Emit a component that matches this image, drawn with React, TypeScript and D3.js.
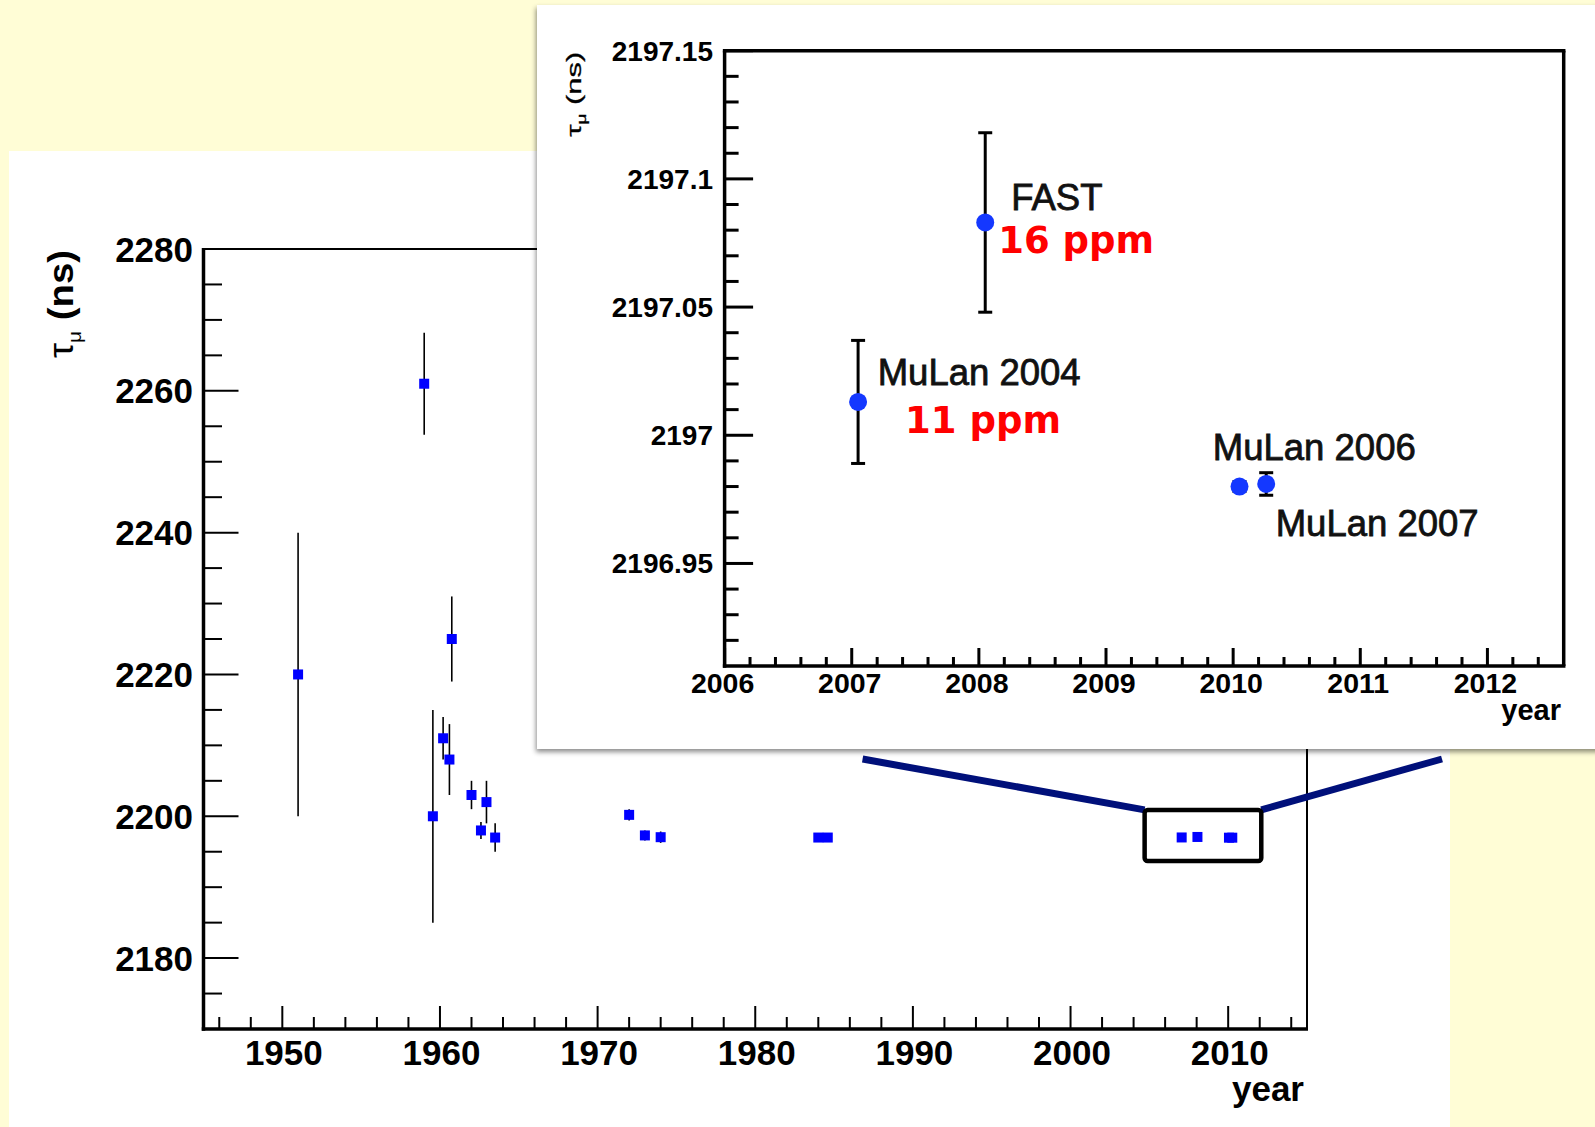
import React from "react";
import * as d3 from "d3";

// Muon lifetime measurements (year, tau in ns, 1-sigma error)
const earlyYears = [1951, 1959, 1959.55, 1960.2, 1960.6, 1960.75, 1962.0, 1962.6, 1962.95, 1963.5, 1972.0, 1973.0, 1974.0, 1984.0, 1984.6];
const earlyTau = [2220, 2261, 2200, 2211, 2208, 2225, 2203, 2198, 2202, 2197, 2200.2, 2197.3, 2197.05, 2197.0, 2197.0];
const earlyErr = [20, 7.2, 15, 3, 5, 6, 2, 1.2, 3, 2, 0.8, 0.7, 0.8, 0.1, 0.1];

// Recent precision experiments shown in the zoomed panel
const recentNames = ["MuLan 2004", "FAST", "MuLan 2006", "MuLan 2007"];
const recentYears = [2007.05, 2008.05, 2010.05, 2010.26];
const recentTau = [2197.013, 2197.083, 2196.98, 2196.981];
const recentErr = [0.024, 0.035, 0.0019, 0.0044];
const precisionLabels = ["11 ppm", "16 ppm", "", ""];

// Axis tick values
const mainYMajor = [2180, 2200, 2220, 2240, 2260, 2280];
const mainXMajor = [1950, 1960, 1970, 1980, 1990, 2000, 2010];
const insetYMajor = [2196.95, 2197.0, 2197.05, 2197.1, 2197.15];
const insetXMajor = [2006, 2007, 2008, 2009, 2010, 2011, 2012];

// Zoom window drawn on the overview plot (data units)
const zoomBoxYears = [2004.7, 2012.1];
const zoomBoxTau = [2193.7, 2200.9];

const FONT = "'Liberation Sans', Arial, Helvetica, sans-serif";
const VFONT = "'DejaVu Sans', Verdana, sans-serif";

export default function App() {
  const W = 1595;
  const H = 1127;

  const x = d3.scaleLinear().domain([1945, 2015]).range([203.5, 1307]);
  const y = d3.scaleLinear().domain([2170, 2280]).range([1029, 249]);
  const ix = d3.scaleLinear().domain([2006, 2012.6]).range([724.6, 1563.7]);
  const iy = d3.scaleLinear().domain([2196.91, 2197.15]).range([666, 50.7]);

  const allYears = earlyYears.concat(recentYears);
  const allTau = earlyTau.concat(recentTau);
  const allErr = earlyErr.concat(recentErr);

  const mainYMinor = d3.range(2170, 2281, 5).filter((v) => !mainYMajor.includes(v));
  const mainXMinor = d3.range(1946, 2015, 2).filter((v) => v % 10 !== 0);
  const insetYMinor = d3
    .range(1, 24)
    .filter((i) => (91 + i) % 5 !== 0)
    .map((i) => 2196.91 + i * 0.01);
  const insetXMinor = d3
    .range(1, 33)
    .filter((i) => i % 5 !== 0)
    .map((i) => 2006 + i * 0.2);

  const fmt = (v: number) => String(+v.toFixed(2));

  const [x0, y0] = [x.range()[0], y.range()[0]];
  const [x1, y1] = [x.range()[1], y.range()[1]];
  const [ix0, iy0] = [ix.range()[0], iy.range()[0]];
  const [ix1, iy1] = [ix.range()[1], iy.range()[1]];

  const bx0 = x(zoomBoxYears[0]);
  const bx1 = x(zoomBoxYears[1]);
  const by0 = y(zoomBoxTau[1]);
  const by1 = y(zoomBoxTau[0]);

  // label offsets (pixels) from each recent point
  const nameOffsets = [
    [19.6, -17],
    [26, -12],
    [-26.7, -26.7],
    [9.5, 51.7],
  ];
  const ppmOffsets = [
    [47, 31],
    [13, 30.5],
    [0, 0],
    [0, 0],
  ];

  return (
    <div style={{ position: "absolute", left: 0, top: 0 }}>
      <svg width={W} height={H} viewBox={`0 0 ${W} ${H}`} style={{ display: "block" }}>
        <defs>
          <filter id="panelShadow" x="-5%" y="-5%" width="115%" height="115%">
            <feDropShadow dx="-1" dy="3" stdDeviation="2.5" floodColor="#000" floodOpacity="0.45" />
          </filter>
        </defs>
        <rect x={0} y={0} width={W} height={H} fill="#fffdd6" />
        {/* overview panel */}
        <rect x={9} y={151} width={1441} height={H - 151} fill="#ffffff" />

        {/* frame */}
        <line x1={x0} y1={y1} x2={x1} y2={y1} stroke="#000" strokeWidth={2} />
        <line x1={x1} y1={y1} x2={x1} y2={y0} stroke="#000" strokeWidth={2} />
        <line x1={x0} y1={y1 - 1} x2={x0} y2={y0 + 1.75} stroke="#000" strokeWidth={3.5} />
        <line x1={x0 - 1.75} y1={y0} x2={x1 + 1} y2={y0} stroke="#000" strokeWidth={3.5} />

        {/* y ticks */}
        {mainYMajor.map((v) => (
          <g key={"ymj" + v}>
            <line x1={x0} x2={x0 + 35} y1={y(v)} y2={y(v)} stroke="#000" strokeWidth={2} />
            <text x={193} y={y(v) + 12.5} textAnchor="end" fontFamily={FONT} fontWeight="bold" fontSize={35} fill="#000">
              {v}
            </text>
          </g>
        ))}
        {mainYMinor.map((v) => (
          <line key={"ymn" + v} x1={x0} x2={x0 + 18.5} y1={y(v)} y2={y(v)} stroke="#000" strokeWidth={2} />
        ))}
        {/* x ticks */}
        {mainXMajor.map((v) => (
          <g key={"xmj" + v}>
            <line x1={x(v)} x2={x(v)} y1={y0} y2={y0 - 23} stroke="#000" strokeWidth={2} />
            <text x={x(v) + 1.5} y={1065} textAnchor="middle" fontFamily={FONT} fontWeight="bold" fontSize={35} fill="#000">
              {v}
            </text>
          </g>
        ))}
        {mainXMinor.map((v) => (
          <line key={"xmn" + v} x1={x(v)} x2={x(v)} y1={y0} y2={y0 - 12} stroke="#000" strokeWidth={2} />
        ))}
        <text x={1304} y={1101} textAnchor="end" fontFamily={FONT} fontWeight="bold" fontSize={35} fill="#000">
          year
        </text>
        <text
          transform="translate(73,358) rotate(-90)"
          fontFamily={FONT}
          fontSize={35}
          fill="#000"
          textLength={108}
          lengthAdjust="spacingAndGlyphs"
        >
          <tspan>τ</tspan>
          <tspan fontSize={19} dy={8}>μ</tspan>
          <tspan dy={-8} fontWeight="bold">{" (ns)"}</tspan>
        </text>

        {/* overview data */}
        {allYears.map((yr, i) => (
          <line
            key={"me" + i}
            x1={x(yr)}
            x2={x(yr)}
            y1={y(allTau[i] - allErr[i])}
            y2={y(allTau[i] + allErr[i])}
            stroke="#000"
            strokeWidth={1.6}
          />
        ))}
        {allYears.map((yr, i) => (
          <rect key={"mp" + i} x={x(yr) - 5} y={y(allTau[i]) - 5} width={10} height={10} fill="#0000ff" />
        ))}

        {/* connectors and zoom window */}
        <line x1={862.6} y1={759} x2={bx0} y2={by0} stroke="#00107a" strokeWidth={7} />
        <line x1={bx1} y1={by0} x2={1442} y2={759} stroke="#00107a" strokeWidth={7} />
        <rect x={bx0} y={by0} width={bx1 - bx0} height={by1 - by0} rx={3} fill="none" stroke="#000" strokeWidth={4.5} />

        {/* zoomed panel */}
        <rect x={537} y={5} width={W - 537 + 20} height={744} fill="#ffffff" filter="url(#panelShadow)" />

        <line x1={ix0 - 1.75} y1={iy1} x2={ix1 + 1.75} y2={iy1} stroke="#000" strokeWidth={3.5} />
        <line x1={ix1} y1={iy1} x2={ix1} y2={iy0} stroke="#000" strokeWidth={3.5} />
        <line x1={ix0} y1={iy1} x2={ix0} y2={iy0 + 1.75} stroke="#000" strokeWidth={3.5} />
        <line x1={ix0 - 1.75} y1={iy0} x2={ix1 + 1.75} y2={iy0} stroke="#000" strokeWidth={3.5} />

        {insetYMajor.map((v) => (
          <g key={"iymj" + v}>
            <line x1={ix0} x2={ix0 + 28.5} y1={iy(v)} y2={iy(v)} stroke="#000" strokeWidth={3} />
            <text x={713} y={iy(v) + 10} textAnchor="end" fontFamily={FONT} fontWeight="bold" fontSize={28} fill="#000">
              {fmt(v)}
            </text>
          </g>
        ))}
        {insetYMinor.map((v, i) => (
          <line key={"iymn" + i} x1={ix0} x2={ix0 + 14} y1={iy(v)} y2={iy(v)} stroke="#000" strokeWidth={3} />
        ))}
        {insetXMajor.map((v) => (
          <g key={"ixmj" + v}>
            <line x1={ix(v)} x2={ix(v)} y1={iy0} y2={iy0 - 18} stroke="#000" strokeWidth={3} />
            <text x={ix(v) - 2} y={692.5} textAnchor="middle" fontFamily={FONT} fontWeight="bold" fontSize={28.5} fill="#000">
              {v}
            </text>
          </g>
        ))}
        {insetXMinor.map((v, i) => (
          <line key={"ixmn" + i} x1={ix(v)} x2={ix(v)} y1={iy0} y2={iy0 - 9} stroke="#000" strokeWidth={3} />
        ))}
        <text x={1561} y={720} textAnchor="end" fontFamily={FONT} fontWeight="bold" fontSize={29} fill="#000">
          year
        </text>
        <text
          transform="translate(581,136.7) rotate(-90)"
          fontFamily={FONT}
          fontSize={19.5}
          fill="#000"
          stroke="#000"
          strokeWidth={0.3}
          textLength={85}
          lengthAdjust="spacingAndGlyphs"
        >
          <tspan>τ</tspan>
          <tspan fontSize={12} dy={5}>μ</tspan>
          <tspan dy={-5}>{" (ns)"}</tspan>
        </text>

        {recentYears.map((yr, i) => {
          const cx = ix(yr);
          const lo = iy(recentTau[i] - recentErr[i]);
          const hi = iy(recentTau[i] + recentErr[i]);
          return (
            <g key={"ie" + i}>
              <line x1={cx} x2={cx} y1={lo} y2={hi} stroke="#000" strokeWidth={3} />
              <line x1={cx - 7} x2={cx + 7} y1={lo} y2={lo} stroke="#000" strokeWidth={3} />
              <line x1={cx - 7} x2={cx + 7} y1={hi} y2={hi} stroke="#000" strokeWidth={3} />
            </g>
          );
        })}
        {recentYears.map((yr, i) => (
          <circle key={"ip" + i} cx={ix(yr)} cy={iy(recentTau[i])} r={9} fill="#1438ff" />
        ))}
        {recentYears.map((yr, i) => (
          <text
            key={"in" + i}
            x={ix(yr) + nameOffsets[i][0]}
            y={iy(recentTau[i]) + nameOffsets[i][1]}
            fontFamily={FONT}
            fontSize={36.5}
            fill="#111"
            stroke="#111"
            strokeWidth={0.8}
          >
            {recentNames[i]}
          </text>
        ))}
        {recentYears.map((yr, i) =>
          precisionLabels[i] ? (
            <text
              key={"ippm" + i}
              x={ix(yr) + ppmOffsets[i][0]}
              y={iy(recentTau[i]) + ppmOffsets[i][1]}
              fontFamily={VFONT}
              fontWeight="bold"
              fontSize={37}
              fill="#ff0000"
            >
              {precisionLabels[i]}
            </text>
          ) : null
        )}
      </svg>
    </div>
  );
}
